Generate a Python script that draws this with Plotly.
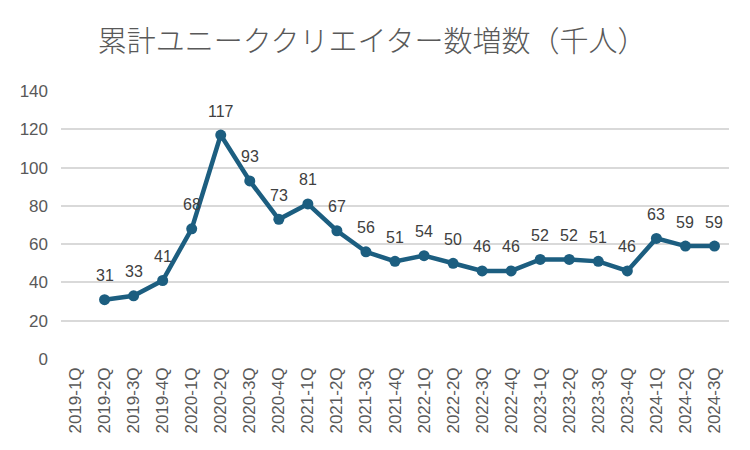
import plotly.graph_objects as go

categories = ["2019-1Q", "2019-2Q", "2019-3Q", "2019-4Q",
              "2020-1Q", "2020-2Q", "2020-3Q", "2020-4Q",
              "2021-1Q", "2021-2Q", "2021-3Q", "2021-4Q",
              "2022-1Q", "2022-2Q", "2022-3Q", "2022-4Q",
              "2023-1Q", "2023-2Q", "2023-3Q", "2023-4Q",
              "2024-1Q", "2024-2Q", "2024-3Q"]
values = [None, 31, 33, 41, 68, 117, 93, 73, 81, 67, 56, 51, 54, 50, 46, 46,
          52, 52, 51, 46, 63, 59, 59]
y_ticks = [0, 20, 40, 60, 80, 100, 120, 140]

LINE = "#1c5e80"
fig = go.Figure(go.Scatter(
    x=categories, y=values, mode="lines+markers",
    line=dict(color=LINE, width=4.5),
    marker=dict(color=LINE, size=11),
    connectgaps=False, cliponaxis=False,
))

for c, v in zip(categories, values):
    if v is None:
        continue
    fig.add_annotation(x=c, y=v, text=str(v), showarrow=False, yshift=24,
                       font=dict(family="Liberation Sans, Arial", size=16, color="#404040"))

fig.update_layout(
    width=734, height=434,
    paper_bgcolor="white", plot_bgcolor="white",
    margin=dict(l=53, r=13, t=83, b=83, autoexpand=False),
    showlegend=False,
    title=dict(text="累計ユニーククリエイター数増数（千人）", x=0.496, xanchor="center",
               y=0.922, yanchor="middle",
               font=dict(family="Noto Sans CJK JP", size=29, color="#595959", weight=300)),
)
fig.update_xaxes(type="category", categoryorder="array", categoryarray=categories,
                 range=[-0.5, len(categories) - 0.5],
                 tickangle=-90, showgrid=False, showline=False, zeroline=False,
                 ticks="", automargin=False, ticklabelstandoff=4,
                 tickfont=dict(family="Liberation Sans, Arial", size=17, color="#595959"))
fig.update_yaxes(range=[0, 140], tickvals=y_ticks, showgrid=True, gridcolor="#d9d9d9",
                 gridwidth=1.5, zeroline=False, showline=False, ticks="", automargin=False,
                 ticklabelstandoff=12,
                 tickfont=dict(family="Liberation Sans, Arial", size=17, color="#595959"))

fig.write_html("out.html")
